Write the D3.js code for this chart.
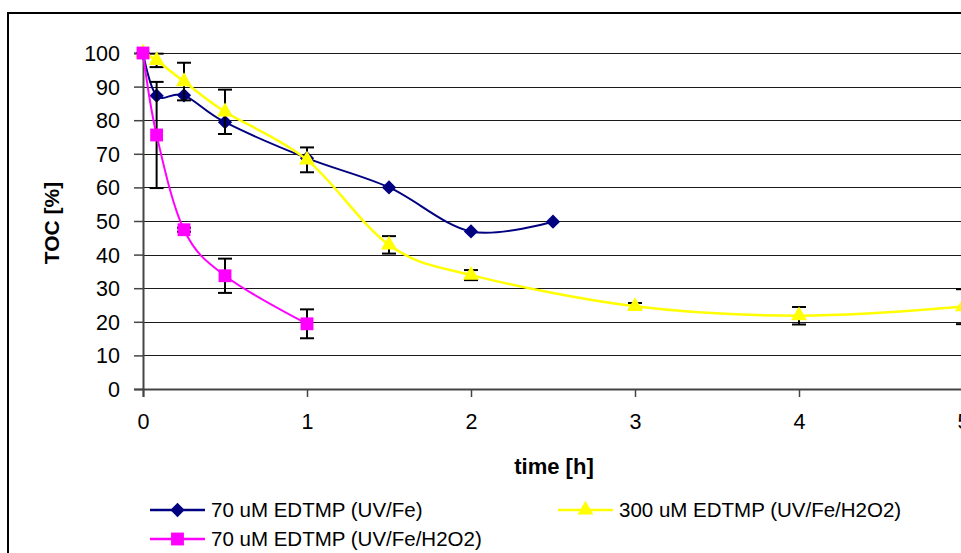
<!DOCTYPE html>
<html><head><meta charset="utf-8">
<script src="https://cdn.jsdelivr.net/npm/d3@7"></script>
<style>html,body{margin:0;padding:0;background:#fff;overflow:hidden}svg{display:block}</style>
</head><body>
<svg id="c" width="961" height="553"></svg>
<script>
const seriesNames = ["70 uM EDTMP (UV/Fe)", "300 uM EDTMP (UV/Fe/H2O2)", "70 uM EDTMP (UV/Fe/H2O2)"];
const blueX = [0, 0.083, 0.25, 0.5, 1, 1.5, 2, 2.5];
const blueY = [100, 87.3, 87.4, 79.4, 68.7, 60, 46.9, 49.8];
const yellowX = [0, 0.083, 0.25, 0.5, 1, 1.5, 2, 3, 4, 5];
const yellowY = [100, 97.8, 91.5, 82.5, 68.2, 42.9, 33.9, 24.6, 21.8, 24.5];
const yellowErr = [0, 2, 5.6, 6.6, 3.7, 2.6, 1.5, 1.0, 2.6, 5.2];
const pinkX = [0, 0.083, 0.25, 0.5, 1];
const pinkY = [100, 75.6, 47.4, 33.7, 19.4];
const pinkErr = [0, 15.8, 0.6, 5.1, 4.3];
const xTicks = [0, 1, 2, 3, 4, 5];
const yTicks = [0, 10, 20, 30, 40, 50, 60, 70, 80, 90, 100];

const svg = d3.select("#c");
const L = 143, R = 963, T = 53, B = 389;
const x = d3.scaleLinear().domain([0, 5]).range([L, R]);
const y = d3.scaleLinear().domain([0, 100]).range([B, T]);
const font = "Arial, 'Liberation Sans', sans-serif";

// outer frame (clipped right/bottom)
svg.append("rect").attr("x", 8).attr("y", 13).attr("width", 1000).attr("height", 600)
  .attr("fill", "none").attr("stroke", "#000").attr("stroke-width", 2);

// gridlines
svg.append("g").selectAll("line").data(yTicks.filter(d => d > 0)).join("line")
  .attr("x1", L).attr("x2", R).attr("y1", d => Math.round(y(d)) + 0.5).attr("y2", d => Math.round(y(d)) + 0.5)
  .attr("stroke", "#1a1a1a").attr("stroke-width", 1.2);

// axes
const yAxis = svg.append("g").attr("transform", `translate(${L},0)`)
  .call(d3.axisLeft(y).tickValues(yTicks).tickSize(9).tickPadding(14).tickFormat(d3.format("d")));
const xAxis = svg.append("g").attr("transform", `translate(0,${B})`)
  .call(d3.axisBottom(x).tickValues(xTicks).tickSize(8).tickPadding(17).tickFormat(d3.format("d")));
[yAxis, xAxis].forEach(g => {
  g.select(".domain").attr("stroke", "#444").attr("stroke-width", 2);
  g.selectAll(".tick line").attr("stroke", "#444").attr("stroke-width", 1.5);
  g.selectAll("text").attr("font-family", font).attr("font-size", 21.5).attr("fill", "#000");
});
yAxis.selectAll("text").attr("dy", "0.35em");

// axis titles
svg.append("text").attr("x", 554).attr("y", 474).attr("text-anchor", "middle")
  .attr("font-family", font).attr("font-size", 22).attr("font-weight", "bold").text("time [h]");
svg.append("text").attr("transform", "translate(59,223) rotate(-90)").attr("text-anchor", "middle")
  .attr("font-family", font).attr("font-size", 21).attr("font-weight", "bold").text("TOC [%]");

const line = d3.line().x(d => x(d[0])).y(d => y(d[1])).curve(d3.curveCatmullRom.alpha(0));

function errBars(xs, ys, es) {
  const g = svg.append("g").attr("stroke", "#000").attr("stroke-width", 2);
  xs.forEach((xv, i) => {
    const e = es[i]; if (!e) return;
    const cx = x(xv), y1 = y(ys[i] + e), y2 = y(ys[i] - e);
    g.append("line").attr("x1", cx).attr("x2", cx).attr("y1", y1).attr("y2", y2);
    g.append("line").attr("x1", cx - 7).attr("x2", cx + 7).attr("y1", y1).attr("y2", y1);
    g.append("line").attr("x1", cx - 7).attr("x2", cx + 7).attr("y1", y2).attr("y2", y2);
  });
}
const sym = {
  diamond: d3.symbol().type(d3.symbolDiamond2).size(130),
  triangle: d3.symbol().type(d3.symbolTriangle).size(110),
  square: d3.symbol().type(d3.symbolSquare).size(165)
};
function series(xs, ys, color, marker, width) {
  const pts = xs.map((v, i) => [v, ys[i]]);
  svg.append("path").attr("d", line(pts)).attr("fill", "none").attr("stroke", color).attr("stroke-width", width);
  svg.append("g").selectAll("path").data(pts).join("path")
    .attr("transform", d => `translate(${x(d[0])},${y(d[1])})`)
    .attr("d", sym[marker]).attr("fill", color);
}
series(blueX, blueY, "#000080", "diamond", 2);
errBars(yellowX, yellowY, yellowErr);
series(yellowX, yellowY, "#FFFF00", "triangle", 2.5);
errBars(pinkX, pinkY, pinkErr);
series(pinkX, pinkY, "#FF00FF", "square", 2);

// legend
const legend = [
  {name: seriesNames[0], color: "#000080", marker: "diamond", lx: 150, ly: 510},
  {name: seriesNames[1], color: "#FFFF00", marker: "triangle", lx: 558, ly: 510},
  {name: seriesNames[2], color: "#FF00FF", marker: "square", lx: 150, ly: 539}
];
const lg = svg.append("g").selectAll("g").data(legend).join("g")
  .attr("transform", d => `translate(${d.lx},${d.ly})`);
lg.append("line").attr("x1", 0).attr("x2", 55).attr("stroke", d => d.color).attr("stroke-width", 2.5);
lg.append("path").attr("transform", "translate(27.5,0)").attr("d", d => sym[d.marker]()).attr("fill", d => d.color);
lg.append("text").attr("x", 61).attr("dy", "0.35em").attr("font-family", font).attr("font-size", 20.5)
  .text(d => d.name);
</script>
</body></html>
